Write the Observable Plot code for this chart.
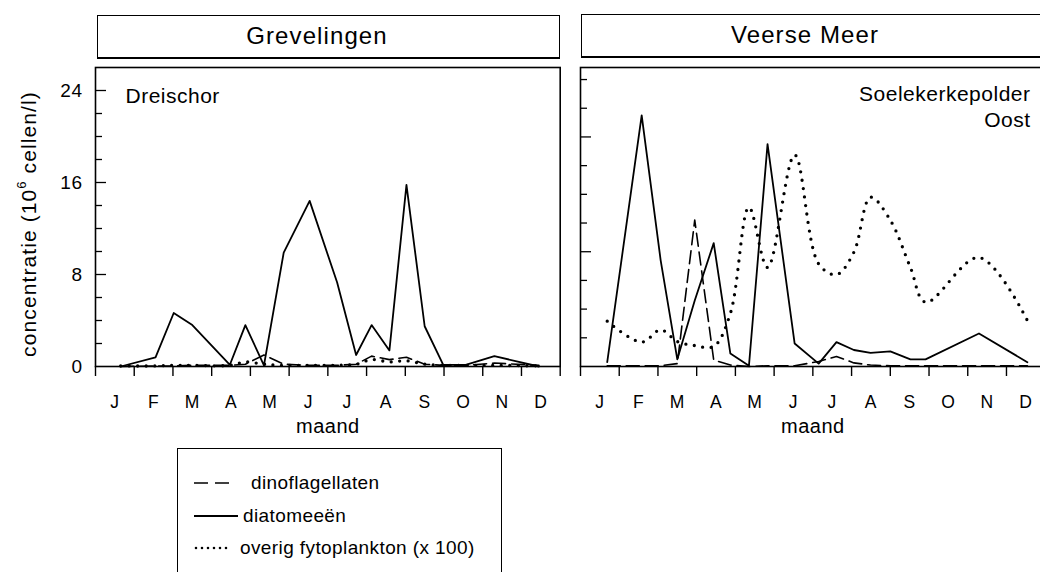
<!DOCTYPE html>
<html>
<head>
<meta charset="utf-8">
<script src="https://cdn.jsdelivr.net/npm/d3@7"></script>
<script src="https://cdn.jsdelivr.net/npm/@observablehq/plot@0.6"></script>
<style>
html, body { margin: 0; padding: 0; background: #fff; overflow: hidden; width: 1040px; height: 572px; }
#root { position: relative; width: 1040px; height: 572px; overflow: hidden; font-family: "Liberation Sans", Arial, sans-serif; color: #000; }
.hdr { position: absolute; box-sizing: border-box; border: 1.5px solid #000; border-bottom-width: 2.5px; background: #fff; }
.hdr span { position: absolute; top: 50%; transform: translate(-50%, -52%); font-size: 24px; letter-spacing: 1.1px; white-space: nowrap; }
.panel { position: absolute; top: 0; }
.panel svg { max-width: none !important; overflow: visible; display: block; }
#ylab { position: absolute; left: 28px; top: 224px; transform: translate(-50%, -50%) rotate(-90deg); font-size: 21px; letter-spacing: 1.1px; white-space: nowrap; }
#ylab sup { font-size: 13px; position: relative; top: -2px; }
#legend { position: absolute; left: 177px; top: 448px; width: 325px; height: 150px; box-sizing: border-box; border: 1.5px solid #000; background: #fff; }
.li { position: absolute; font-size: 19px; letter-spacing: 0.4px; white-space: nowrap; transform: translateY(-50%); }
.ls { position: absolute; left: 16px; transform: translateY(-50%); display: block; }
</style>
</head>
<body>
<div id="root">
  <div class="hdr" style="left:97px;top:15px;width:463px;height:44px;"><span style="left:219px;">Grevelingen</span></div>
  <div class="hdr" style="left:581px;top:14px;width:465px;height:44px;"><span style="left:223px;">Veerse Meer</span></div>
  <div class="panel" id="left" style="left:0px;"></div>
  <div class="panel" id="right" style="left:520px;"></div>
  <div id="ylab">concentratie (10<sup>6</sup> cellen/l)</div>
  <div id="legend"></div>
</div>
<script>
// ---- data ----
const monthLabels = ["J", "F", "M", "A", "M", "J", "J", "A", "S", "O", "N", "D"];
const yTickLabels = [0, 8, 16, 24];

// Grevelingen, Dreischor (time in months since 1 Jan)
const leftTimes    = [0.65, 1.55, 2.02, 2.5, 3.47, 3.87, 4.35, 4.86, 5.53, 6.24, 6.73, 7.13, 7.59, 8.03, 8.5, 8.98, 9.56, 10.3, 11.45];
const leftDiatoms  = [0, 0.8, 4.65, 3.6, 0.15, 3.6, 0.1, 9.9, 14.4, 7.3, 1.0, 3.6, 1.4, 15.8, 3.5, 0.15, 0.15, 0.9, 0];
const leftDinos    = [0, 0.05, 0.05, 0.1, 0.1, 0.2, 1.0, 0.2, 0.1, 0.1, 0.2, 0.9, 0.6, 0.8, 0.2, 0.1, 0.1, 0.3, 0.1];
const leftOverig   = [0.05, 0.05, 0.1, 0.1, 0.1, 0.4, 0.2, 0.1, 0.1, 0.1, 0.2, 0.6, 0.4, 0.5, 0.2, 0.1, 0.1, 0.1, 0.05];

// Veerse Meer, Soelekerkepolder Oost
const rightTimes   = [0.69, 1.58, 2.07, 2.5, 2.95, 3.44, 3.87, 4.35, 4.83, 5.53, 6.15, 6.61, 7.06, 7.49, 8.0, 8.52, 8.91, 10.29, 11.54];
const rightDiatoms = [0.3, 17.5, 7.4, 0.5, 4.6, 8.6, 0.9, 0.05, 15.5, 1.6, 0.2, 1.7, 1.15, 0.95, 1.05, 0.5, 0.5, 2.3, 0.3];
const rightDinos   = [0.05, 0.05, 0.05, 0.2, 10.2, 0.45, 0.1, 0, 0.05, 0.05, 0.35, 0.7, 0.25, 0.1, 0.05, 0.05, 0.05, 0.05, 0.05];
const rightOverig  = [3.16, 1.7, 2.56, 1.74, 1.46, 1.4, 3.7, 11.1, 6.9, 14.75, 7.15, 6.4, 7.97, 11.8, 10.2, 6.9, 4.48, 7.6, 3.2];

const seriesNames = ["dinoflagellaten", "diatomeeën", "overig fytoplankton (x 100)"];

// ---- helpers ----
const toRows = (t, v) => t.map((x, i) => ({x, y: v[i]}));
const font = "'Liberation Sans', Arial, sans-serif";
const dashStyle = {stroke: "black", strokeWidth: 1.6, strokeDasharray: "13,6"};
const solidStyle = {stroke: "black", strokeWidth: 1.8};
const dotStyle = {stroke: "black", strokeWidth: 3.3, strokeDasharray: "0,8.5", strokeLinecap: "round", curve: "catmull-rom"};

function panel({width, marginLeft, marginRight, ymax, times, diatoms, dinos, overig, withLabels, annotation, anchor, adx, ady}) {
  const fw = width - marginLeft - marginRight;
  const minor = d3.range(0, ymax, 2).filter(d => d % 8 !== 0);
  const major = d3.range(8, ymax, 8);
  const marks = [
    Plot.ruleY(minor, {insetRight: fw - 7, stroke: "black", strokeWidth: 1.3}),
    Plot.ruleY(major, {insetRight: fw - 11, stroke: "black", strokeWidth: 1.3}),
    Plot.axisX(d3.range(0, 13), {tickSize: 10, tickFormat: () => "", strokeWidth: 1.4, label: null}),
    Plot.axisX(d3.range(0.5, 12, 1), {tickSize: 0, tickPadding: 29, fontSize: 17.5, tickFormat: d => monthLabels[Math.floor(d)], label: null}),
    Plot.text(["maand"], {frameAnchor: "bottom", dy: 66, fontSize: 20, text: d => d}),
    Plot.line(toRows(times, dinos), {x: "x", y: "y", ...dashStyle}),
    Plot.line(toRows(times, overig), {x: "x", y: "y", ...dotStyle}),
    Plot.line(toRows(times, diatoms), {x: "x", y: "y", ...solidStyle}),
    Plot.text([annotation], {frameAnchor: anchor, textAnchor: anchor === "top-left" ? "start" : "end", lineAnchor: "top", dx: adx, dy: ady, fontSize: 21, lineHeight: 1.24, text: d => d}),
    Plot.frame({stroke: "black", strokeWidth: 1.6})
  ];
  if (withLabels) marks.push(Plot.axisY(yTickLabels, {tickSize: 0, tickPadding: 13, fontSize: 19, label: null}));
  return Plot.plot({
    width, height: 440, marginLeft, marginRight, marginTop: 67, marginBottom: 74,
    x: {domain: [0, 12]},
    y: {domain: [0, ymax], axis: withLabels ? undefined : null},
    style: {fontFamily: font, background: "transparent", overflow: "visible", color: "black"},
    marks
  });
}

const leftPlot = panel({width: 565, marginLeft: 95, marginRight: 5.3, ymax: 26,
  times: leftTimes, diatoms: leftDiatoms, dinos: leftDinos, overig: leftOverig,
  withLabels: true, annotation: "Dreischor", anchor: "top-left", adx: 30, ady: 17});
const rightPlot = panel({width: 540, marginLeft: 60, marginRight: 15.3, ymax: 20.84,
  times: rightTimes, diatoms: rightDiatoms, dinos: rightDinos, overig: rightOverig,
  withLabels: false, annotation: "Soelekerkepolder\nOost", anchor: "top-right", adx: -14.7, ady: 15});

document.getElementById("left").appendChild(leftPlot);
document.getElementById("right").appendChild(rightPlot);

// slightly wider letter spacing for the annotation and tick labels
d3.selectAll("#root svg text").attr("letter-spacing", "0.5px");

// ---- legend ----
const legend = d3.select("#legend");
const rowsY = [34, 67, 99];
const textX = [73, 65, 62];
const samples = [
  {w: 36, dash: "14,7", sw: 1.6, cap: "butt"},
  {w: 44, dash: null, sw: 1.8, cap: "butt"},
  {w: 34, dash: "0,6", sw: 2.6, cap: "round"}
];
seriesNames.forEach((name, i) => {
  const s = samples[i];
  const svg = legend.append("svg").attr("class", "ls").attr("width", s.w + 4).attr("height", 10)
    .style("top", rowsY[i] + "px");
  svg.append("line").attr("x1", i === 2 ? 2 : 0).attr("x2", s.w).attr("y1", 5).attr("y2", 5)
    .attr("stroke", "black").attr("stroke-width", s.sw).attr("stroke-linecap", s.cap)
    .attr("stroke-dasharray", s.dash);
  legend.append("div").attr("class", "li").style("left", textX[i] + "px").style("top", rowsY[i] + "px").text(name);
});
</script>
</body>
</html>
